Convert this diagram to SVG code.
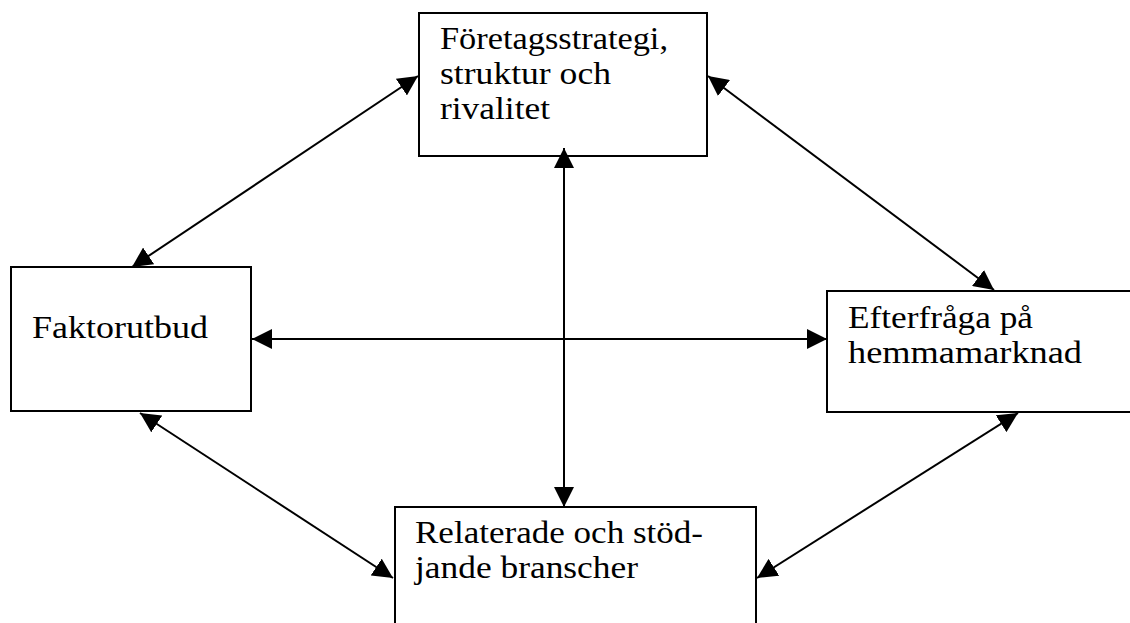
<svg xmlns="http://www.w3.org/2000/svg" width="1130" height="623" viewBox="0 0 1130 623">
<style>
.box{fill:#fff;stroke:#000;stroke-width:2}
.t{font-family:"Liberation Serif","Times New Roman",serif;font-size:31px;fill:#000}
.c{stroke:#000;stroke-width:2;fill:none;marker-start:url(#ah);marker-end:url(#ah)}
</style>
<defs>
<marker id="ah" markerUnits="userSpaceOnUse" markerWidth="20" markerHeight="20" refX="20" refY="10" orient="auto-start-reverse" viewBox="0 0 20 20">
<path d="M0,0 L20,10 L0,20 z" fill="#000"/>
</marker>
</defs>
<rect width="1130" height="623" fill="#fff"/>
<g id="node-strategi">
<rect class="box" x="419" y="13" width="288" height="143"/>
<text class="t" x="440" y="49" textLength="228" lengthAdjust="spacingAndGlyphs">Företagsstrategi,</text>
<text class="t" x="440" y="84" textLength="171" lengthAdjust="spacingAndGlyphs">struktur och</text>
<text class="t" x="440" y="119" textLength="110" lengthAdjust="spacingAndGlyphs">rivalitet</text>
</g>
<g id="node-faktor">
<rect class="box" x="11" y="267" width="240" height="144"/>
<text class="t" x="32" y="338" textLength="176" lengthAdjust="spacingAndGlyphs">Faktorutbud</text>
</g>
<g id="node-efterfraga">
<path class="box" d="M1132,291 H827 V412 H1132"/>
<text class="t" x="848" y="328" textLength="185" lengthAdjust="spacingAndGlyphs">Efterfråga på</text>
<text class="t" x="848" y="363" textLength="234" lengthAdjust="spacingAndGlyphs">hemmamarknad</text>
</g>
<g id="node-relaterade">
<path class="box" d="M395,625 V507 H756 V625"/>
<text class="t" x="415" y="543" textLength="288" lengthAdjust="spacingAndGlyphs">Relaterade och stöd-</text>
<text class="t" x="415" y="578" textLength="223" lengthAdjust="spacingAndGlyphs">jande branscher</text>
</g>
<g id="connectors">
<line class="c" x1="564" y1="148" x2="564" y2="507"/>
<line class="c" x1="252" y1="339" x2="827" y2="339"/>
<line class="c" x1="418" y1="76" x2="132" y2="267"/>
<line class="c" x1="708" y1="76" x2="994" y2="290"/>
<line class="c" x1="140" y1="413" x2="393" y2="578"/>
<line class="c" x1="1018" y1="413" x2="757" y2="578"/>
</g>
</svg>
